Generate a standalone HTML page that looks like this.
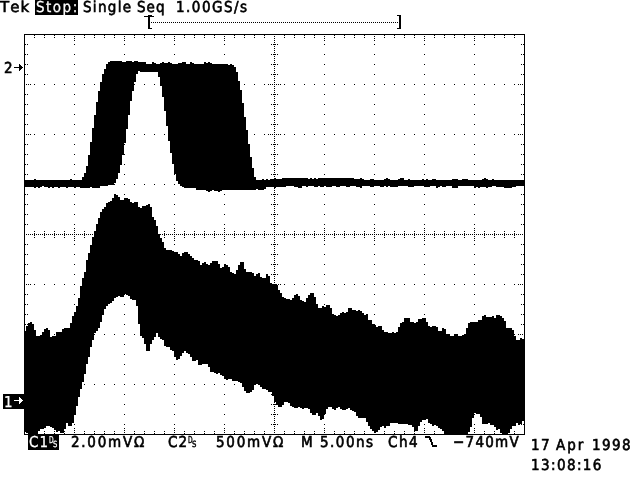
<!DOCTYPE html>
<html><head><meta charset="utf-8"><title>Tek scope</title>
<style>
html,body{margin:0;padding:0;background:#fff;}
body{width:640px;height:480px;overflow:hidden;position:relative;font-family:"DejaVu Sans Condensed","DejaVu Sans","Liberation Sans",sans-serif;font-stretch:condensed;color:#000;}
svg{position:absolute;left:0;top:0;display:block}
.t{position:absolute;white-space:pre;font-size:15px;line-height:15px;-webkit-text-stroke:0.6px #000;text-rendering:geometricPrecision;font-kerning:none;}
.s{position:absolute;white-space:pre;font-size:9.5px;line-height:9px;-webkit-text-stroke:0.45px #000;text-rendering:geometricPrecision;}
.n{font-family:"DejaVu Sans","Liberation Sans",sans-serif;font-stretch:normal;}
.w{color:#fff;-webkit-text-stroke:0.25px #fff;}
.box{position:absolute;background:#000;}
</style></head><body>
<svg width="640" height="480" viewBox="0 0 640 480" shape-rendering="crispEdges">
<rect width="640" height="480" fill="#fff"/>
<path d="M25 44h1v1h-1zM25 54h1v1h-1zM25 64h1v1h-1zM25 74h1v1h-1zM25 94h1v1h-1zM25 104h1v1h-1zM25 114h1v1h-1zM25 124h1v1h-1zM25 144h1v1h-1zM25 154h1v1h-1zM25 164h1v1h-1zM25 174h1v1h-1zM25 194h1v1h-1zM25 204h1v1h-1zM25 214h1v1h-1zM25 224h1v1h-1zM25 244h1v1h-1zM25 254h1v1h-1zM25 264h1v1h-1zM25 274h1v1h-1zM25 294h1v1h-1zM25 304h1v1h-1zM25 314h1v1h-1zM25 324h1v1h-1zM25 344h1v1h-1zM25 354h1v1h-1zM25 364h1v1h-1zM25 374h1v1h-1zM25 394h1v1h-1zM25 404h1v1h-1zM25 414h1v1h-1zM25 424h1v1h-1zM26 84h1v1h-1zM26 134h1v1h-1zM26 184h1v1h-1zM26 234h1v1h-1zM26 284h1v1h-1zM26 334h1v1h-1zM26 384h1v1h-1zM27 44h1v1h-1zM27 54h1v1h-1zM27 64h1v1h-1zM27 74h1v1h-1zM27 94h1v1h-1zM27 104h1v1h-1zM27 114h1v1h-1zM27 124h1v1h-1zM27 144h1v1h-1zM27 154h1v1h-1zM27 164h1v1h-1zM27 174h1v1h-1zM27 194h1v1h-1zM27 204h1v1h-1zM27 214h1v1h-1zM27 224h1v1h-1zM27 244h1v1h-1zM27 254h1v1h-1zM27 264h1v1h-1zM27 274h1v1h-1zM27 294h1v1h-1zM27 304h1v1h-1zM27 314h1v1h-1zM27 324h1v1h-1zM27 344h1v1h-1zM27 354h1v1h-1zM27 364h1v1h-1zM27 374h1v1h-1zM27 394h1v1h-1zM27 404h1v1h-1zM27 414h1v1h-1zM27 424h1v1h-1zM28 84h1v1h-1zM28 134h1v1h-1zM28 184h1v1h-1zM28 234h1v1h-1zM28 284h1v1h-1zM28 334h1v1h-1zM28 384h1v1h-1zM30 84h1v1h-1zM30 134h1v1h-1zM30 184h1v1h-1zM30 234h1v1h-1zM30 284h1v1h-1zM30 334h1v1h-1zM30 384h1v1h-1zM32 234h1v1h-1zM34 35h1v1h-1zM34 37h1v1h-1zM34 84h1v1h-1zM34 134h1v1h-1zM34 184h1v1h-1zM34 231h1v1h-1zM34 233h1v1h-1zM34 234h1v1h-1zM34 235h1v1h-1zM34 237h1v1h-1zM34 284h1v1h-1zM34 334h1v1h-1zM34 384h1v1h-1zM34 431h1v1h-1zM34 433h1v1h-1zM36 234h1v1h-1zM38 234h1v1h-1zM40 234h1v1h-1zM42 234h1v1h-1zM44 35h1v1h-1zM44 37h1v1h-1zM44 84h1v1h-1zM44 134h1v1h-1zM44 184h1v1h-1zM44 231h1v1h-1zM44 233h1v1h-1zM44 234h1v1h-1zM44 235h1v1h-1zM44 237h1v1h-1zM44 284h1v1h-1zM44 334h1v1h-1zM44 384h1v1h-1zM44 431h1v1h-1zM44 433h1v1h-1zM46 234h1v1h-1zM48 234h1v1h-1zM50 234h1v1h-1zM52 234h1v1h-1zM54 35h1v1h-1zM54 37h1v1h-1zM54 84h1v1h-1zM54 134h1v1h-1zM54 184h1v1h-1zM54 231h1v1h-1zM54 233h1v1h-1zM54 234h1v1h-1zM54 235h1v1h-1zM54 237h1v1h-1zM54 284h1v1h-1zM54 334h1v1h-1zM54 384h1v1h-1zM54 431h1v1h-1zM54 433h1v1h-1zM56 234h1v1h-1zM58 234h1v1h-1zM60 234h1v1h-1zM62 234h1v1h-1zM64 35h1v1h-1zM64 37h1v1h-1zM64 84h1v1h-1zM64 134h1v1h-1zM64 184h1v1h-1zM64 231h1v1h-1zM64 233h1v1h-1zM64 234h1v1h-1zM64 235h1v1h-1zM64 237h1v1h-1zM64 284h1v1h-1zM64 334h1v1h-1zM64 384h1v1h-1zM64 431h1v1h-1zM64 433h1v1h-1zM66 234h1v1h-1zM68 234h1v1h-1zM70 234h1v1h-1zM72 234h1v1h-1zM74 36h1v1h-1zM74 38h1v1h-1zM74 40h1v1h-1zM74 44h1v1h-1zM74 54h1v1h-1zM74 64h1v1h-1zM74 74h1v1h-1zM74 84h1v1h-1zM74 94h1v1h-1zM74 104h1v1h-1zM74 114h1v1h-1zM74 124h1v1h-1zM74 134h1v1h-1zM74 144h1v1h-1zM74 154h1v1h-1zM74 164h1v1h-1zM74 174h1v1h-1zM74 184h1v1h-1zM74 194h1v1h-1zM74 204h1v1h-1zM74 214h1v1h-1zM74 224h1v1h-1zM74 228h1v1h-1zM74 230h1v1h-1zM74 232h1v1h-1zM74 234h1v1h-1zM74 236h1v1h-1zM74 238h1v1h-1zM74 240h1v1h-1zM74 244h1v1h-1zM74 254h1v1h-1zM74 264h1v1h-1zM74 274h1v1h-1zM74 284h1v1h-1zM74 294h1v1h-1zM74 304h1v1h-1zM74 314h1v1h-1zM74 324h1v1h-1zM74 334h1v1h-1zM74 344h1v1h-1zM74 354h1v1h-1zM74 364h1v1h-1zM74 374h1v1h-1zM74 384h1v1h-1zM74 394h1v1h-1zM74 404h1v1h-1zM74 414h1v1h-1zM74 424h1v1h-1zM74 428h1v1h-1zM74 430h1v1h-1zM74 432h1v1h-1zM76 234h1v1h-1zM78 234h1v1h-1zM80 234h1v1h-1zM82 234h1v1h-1zM84 35h1v1h-1zM84 37h1v1h-1zM84 84h1v1h-1zM84 134h1v1h-1zM84 184h1v1h-1zM84 231h1v1h-1zM84 233h1v1h-1zM84 234h1v1h-1zM84 235h1v1h-1zM84 237h1v1h-1zM84 284h1v1h-1zM84 334h1v1h-1zM84 384h1v1h-1zM84 431h1v1h-1zM84 433h1v1h-1zM86 234h1v1h-1zM88 234h1v1h-1zM90 234h1v1h-1zM92 234h1v1h-1zM94 35h1v1h-1zM94 37h1v1h-1zM94 84h1v1h-1zM94 134h1v1h-1zM94 184h1v1h-1zM94 231h1v1h-1zM94 233h1v1h-1zM94 234h1v1h-1zM94 235h1v1h-1zM94 237h1v1h-1zM94 284h1v1h-1zM94 334h1v1h-1zM94 384h1v1h-1zM94 431h1v1h-1zM94 433h1v1h-1zM96 234h1v1h-1zM98 234h1v1h-1zM100 234h1v1h-1zM102 234h1v1h-1zM104 35h1v1h-1zM104 37h1v1h-1zM104 84h1v1h-1zM104 134h1v1h-1zM104 184h1v1h-1zM104 231h1v1h-1zM104 233h1v1h-1zM104 234h1v1h-1zM104 235h1v1h-1zM104 237h1v1h-1zM104 284h1v1h-1zM104 334h1v1h-1zM104 384h1v1h-1zM104 431h1v1h-1zM104 433h1v1h-1zM106 234h1v1h-1zM108 234h1v1h-1zM110 234h1v1h-1zM112 234h1v1h-1zM114 35h1v1h-1zM114 37h1v1h-1zM114 84h1v1h-1zM114 134h1v1h-1zM114 184h1v1h-1zM114 231h1v1h-1zM114 233h1v1h-1zM114 234h1v1h-1zM114 235h1v1h-1zM114 237h1v1h-1zM114 284h1v1h-1zM114 334h1v1h-1zM114 384h1v1h-1zM114 431h1v1h-1zM114 433h1v1h-1zM116 234h1v1h-1zM118 234h1v1h-1zM120 234h1v1h-1zM122 234h1v1h-1zM124 36h1v1h-1zM124 38h1v1h-1zM124 40h1v1h-1zM124 44h1v1h-1zM124 54h1v1h-1zM124 64h1v1h-1zM124 74h1v1h-1zM124 84h1v1h-1zM124 94h1v1h-1zM124 104h1v1h-1zM124 114h1v1h-1zM124 124h1v1h-1zM124 134h1v1h-1zM124 144h1v1h-1zM124 154h1v1h-1zM124 164h1v1h-1zM124 174h1v1h-1zM124 184h1v1h-1zM124 194h1v1h-1zM124 204h1v1h-1zM124 214h1v1h-1zM124 224h1v1h-1zM124 228h1v1h-1zM124 230h1v1h-1zM124 232h1v1h-1zM124 234h1v1h-1zM124 236h1v1h-1zM124 238h1v1h-1zM124 240h1v1h-1zM124 244h1v1h-1zM124 254h1v1h-1zM124 264h1v1h-1zM124 274h1v1h-1zM124 284h1v1h-1zM124 294h1v1h-1zM124 304h1v1h-1zM124 314h1v1h-1zM124 324h1v1h-1zM124 334h1v1h-1zM124 344h1v1h-1zM124 354h1v1h-1zM124 364h1v1h-1zM124 374h1v1h-1zM124 384h1v1h-1zM124 394h1v1h-1zM124 404h1v1h-1zM124 414h1v1h-1zM124 424h1v1h-1zM124 428h1v1h-1zM124 430h1v1h-1zM124 432h1v1h-1zM126 234h1v1h-1zM128 234h1v1h-1zM130 234h1v1h-1zM132 234h1v1h-1zM134 35h1v1h-1zM134 37h1v1h-1zM134 84h1v1h-1zM134 134h1v1h-1zM134 184h1v1h-1zM134 231h1v1h-1zM134 233h1v1h-1zM134 234h1v1h-1zM134 235h1v1h-1zM134 237h1v1h-1zM134 284h1v1h-1zM134 334h1v1h-1zM134 384h1v1h-1zM134 431h1v1h-1zM134 433h1v1h-1zM136 234h1v1h-1zM138 234h1v1h-1zM140 234h1v1h-1zM142 234h1v1h-1zM144 35h1v1h-1zM144 37h1v1h-1zM144 84h1v1h-1zM144 134h1v1h-1zM144 184h1v1h-1zM144 231h1v1h-1zM144 233h1v1h-1zM144 234h1v1h-1zM144 235h1v1h-1zM144 237h1v1h-1zM144 284h1v1h-1zM144 334h1v1h-1zM144 384h1v1h-1zM144 431h1v1h-1zM144 433h1v1h-1zM146 234h1v1h-1zM148 234h1v1h-1zM150 234h1v1h-1zM152 234h1v1h-1zM154 35h1v1h-1zM154 37h1v1h-1zM154 84h1v1h-1zM154 134h1v1h-1zM154 184h1v1h-1zM154 231h1v1h-1zM154 233h1v1h-1zM154 234h1v1h-1zM154 235h1v1h-1zM154 237h1v1h-1zM154 284h1v1h-1zM154 334h1v1h-1zM154 384h1v1h-1zM154 431h1v1h-1zM154 433h1v1h-1zM156 234h1v1h-1zM158 234h1v1h-1zM160 234h1v1h-1zM162 234h1v1h-1zM164 35h1v1h-1zM164 37h1v1h-1zM164 84h1v1h-1zM164 134h1v1h-1zM164 184h1v1h-1zM164 231h1v1h-1zM164 233h1v1h-1zM164 234h1v1h-1zM164 235h1v1h-1zM164 237h1v1h-1zM164 284h1v1h-1zM164 334h1v1h-1zM164 384h1v1h-1zM164 431h1v1h-1zM164 433h1v1h-1zM166 234h1v1h-1zM168 234h1v1h-1zM170 234h1v1h-1zM172 234h1v1h-1zM174 36h1v1h-1zM174 38h1v1h-1zM174 40h1v1h-1zM174 44h1v1h-1zM174 54h1v1h-1zM174 64h1v1h-1zM174 74h1v1h-1zM174 84h1v1h-1zM174 94h1v1h-1zM174 104h1v1h-1zM174 114h1v1h-1zM174 124h1v1h-1zM174 134h1v1h-1zM174 144h1v1h-1zM174 154h1v1h-1zM174 164h1v1h-1zM174 174h1v1h-1zM174 184h1v1h-1zM174 194h1v1h-1zM174 204h1v1h-1zM174 214h1v1h-1zM174 224h1v1h-1zM174 228h1v1h-1zM174 230h1v1h-1zM174 232h1v1h-1zM174 234h1v1h-1zM174 236h1v1h-1zM174 238h1v1h-1zM174 240h1v1h-1zM174 244h1v1h-1zM174 254h1v1h-1zM174 264h1v1h-1zM174 274h1v1h-1zM174 284h1v1h-1zM174 294h1v1h-1zM174 304h1v1h-1zM174 314h1v1h-1zM174 324h1v1h-1zM174 334h1v1h-1zM174 344h1v1h-1zM174 354h1v1h-1zM174 364h1v1h-1zM174 374h1v1h-1zM174 384h1v1h-1zM174 394h1v1h-1zM174 404h1v1h-1zM174 414h1v1h-1zM174 424h1v1h-1zM174 428h1v1h-1zM174 430h1v1h-1zM174 432h1v1h-1zM176 234h1v1h-1zM178 234h1v1h-1zM180 234h1v1h-1zM182 234h1v1h-1zM184 35h1v1h-1zM184 37h1v1h-1zM184 84h1v1h-1zM184 134h1v1h-1zM184 184h1v1h-1zM184 231h1v1h-1zM184 233h1v1h-1zM184 234h1v1h-1zM184 235h1v1h-1zM184 237h1v1h-1zM184 284h1v1h-1zM184 334h1v1h-1zM184 384h1v1h-1zM184 431h1v1h-1zM184 433h1v1h-1zM186 234h1v1h-1zM188 234h1v1h-1zM190 234h1v1h-1zM192 234h1v1h-1zM194 35h1v1h-1zM194 37h1v1h-1zM194 84h1v1h-1zM194 134h1v1h-1zM194 184h1v1h-1zM194 231h1v1h-1zM194 233h1v1h-1zM194 234h1v1h-1zM194 235h1v1h-1zM194 237h1v1h-1zM194 284h1v1h-1zM194 334h1v1h-1zM194 384h1v1h-1zM194 431h1v1h-1zM194 433h1v1h-1zM196 234h1v1h-1zM198 234h1v1h-1zM200 234h1v1h-1zM202 234h1v1h-1zM204 35h1v1h-1zM204 37h1v1h-1zM204 84h1v1h-1zM204 134h1v1h-1zM204 184h1v1h-1zM204 231h1v1h-1zM204 233h1v1h-1zM204 234h1v1h-1zM204 235h1v1h-1zM204 237h1v1h-1zM204 284h1v1h-1zM204 334h1v1h-1zM204 384h1v1h-1zM204 431h1v1h-1zM204 433h1v1h-1zM206 234h1v1h-1zM208 234h1v1h-1zM210 234h1v1h-1zM212 234h1v1h-1zM214 35h1v1h-1zM214 37h1v1h-1zM214 84h1v1h-1zM214 134h1v1h-1zM214 184h1v1h-1zM214 231h1v1h-1zM214 233h1v1h-1zM214 234h1v1h-1zM214 235h1v1h-1zM214 237h1v1h-1zM214 284h1v1h-1zM214 334h1v1h-1zM214 384h1v1h-1zM214 431h1v1h-1zM214 433h1v1h-1zM216 234h1v1h-1zM218 234h1v1h-1zM220 234h1v1h-1zM222 234h1v1h-1zM224 36h1v1h-1zM224 38h1v1h-1zM224 40h1v1h-1zM224 44h1v1h-1zM224 54h1v1h-1zM224 64h1v1h-1zM224 74h1v1h-1zM224 84h1v1h-1zM224 94h1v1h-1zM224 104h1v1h-1zM224 114h1v1h-1zM224 124h1v1h-1zM224 134h1v1h-1zM224 144h1v1h-1zM224 154h1v1h-1zM224 164h1v1h-1zM224 174h1v1h-1zM224 184h1v1h-1zM224 194h1v1h-1zM224 204h1v1h-1zM224 214h1v1h-1zM224 224h1v1h-1zM224 228h1v1h-1zM224 230h1v1h-1zM224 232h1v1h-1zM224 234h1v1h-1zM224 236h1v1h-1zM224 238h1v1h-1zM224 240h1v1h-1zM224 244h1v1h-1zM224 254h1v1h-1zM224 264h1v1h-1zM224 274h1v1h-1zM224 284h1v1h-1zM224 294h1v1h-1zM224 304h1v1h-1zM224 314h1v1h-1zM224 324h1v1h-1zM224 334h1v1h-1zM224 344h1v1h-1zM224 354h1v1h-1zM224 364h1v1h-1zM224 374h1v1h-1zM224 384h1v1h-1zM224 394h1v1h-1zM224 404h1v1h-1zM224 414h1v1h-1zM224 424h1v1h-1zM224 428h1v1h-1zM224 430h1v1h-1zM224 432h1v1h-1zM226 234h1v1h-1zM228 234h1v1h-1zM230 234h1v1h-1zM232 234h1v1h-1zM234 35h1v1h-1zM234 37h1v1h-1zM234 84h1v1h-1zM234 134h1v1h-1zM234 184h1v1h-1zM234 231h1v1h-1zM234 233h1v1h-1zM234 234h1v1h-1zM234 235h1v1h-1zM234 237h1v1h-1zM234 284h1v1h-1zM234 334h1v1h-1zM234 384h1v1h-1zM234 431h1v1h-1zM234 433h1v1h-1zM236 234h1v1h-1zM238 234h1v1h-1zM240 234h1v1h-1zM242 234h1v1h-1zM244 35h1v1h-1zM244 37h1v1h-1zM244 84h1v1h-1zM244 134h1v1h-1zM244 184h1v1h-1zM244 231h1v1h-1zM244 233h1v1h-1zM244 234h1v1h-1zM244 235h1v1h-1zM244 237h1v1h-1zM244 284h1v1h-1zM244 334h1v1h-1zM244 384h1v1h-1zM244 431h1v1h-1zM244 433h1v1h-1zM246 234h1v1h-1zM248 234h1v1h-1zM250 234h1v1h-1zM252 234h1v1h-1zM254 35h1v1h-1zM254 37h1v1h-1zM254 84h1v1h-1zM254 134h1v1h-1zM254 184h1v1h-1zM254 231h1v1h-1zM254 233h1v1h-1zM254 234h1v1h-1zM254 235h1v1h-1zM254 237h1v1h-1zM254 284h1v1h-1zM254 334h1v1h-1zM254 384h1v1h-1zM254 431h1v1h-1zM254 433h1v1h-1zM256 234h1v1h-1zM258 234h1v1h-1zM260 234h1v1h-1zM262 234h1v1h-1zM264 35h1v1h-1zM264 37h1v1h-1zM264 84h1v1h-1zM264 134h1v1h-1zM264 184h1v1h-1zM264 231h1v1h-1zM264 233h1v1h-1zM264 234h1v1h-1zM264 235h1v1h-1zM264 237h1v1h-1zM264 284h1v1h-1zM264 334h1v1h-1zM264 384h1v1h-1zM264 431h1v1h-1zM264 433h1v1h-1zM266 234h1v1h-1zM268 84h1v1h-1zM268 134h1v1h-1zM268 184h1v1h-1zM268 234h1v1h-1zM268 284h1v1h-1zM268 334h1v1h-1zM268 384h1v1h-1zM270 84h1v1h-1zM270 134h1v1h-1zM270 184h1v1h-1zM270 234h1v1h-1zM270 284h1v1h-1zM270 334h1v1h-1zM270 384h1v1h-1zM271 44h1v1h-1zM271 54h1v1h-1zM271 64h1v1h-1zM271 74h1v1h-1zM271 94h1v1h-1zM271 104h1v1h-1zM271 114h1v1h-1zM271 124h1v1h-1zM271 144h1v1h-1zM271 154h1v1h-1zM271 164h1v1h-1zM271 174h1v1h-1zM271 194h1v1h-1zM271 204h1v1h-1zM271 214h1v1h-1zM271 224h1v1h-1zM271 244h1v1h-1zM271 254h1v1h-1zM271 264h1v1h-1zM271 274h1v1h-1zM271 294h1v1h-1zM271 304h1v1h-1zM271 314h1v1h-1zM271 324h1v1h-1zM271 344h1v1h-1zM271 354h1v1h-1zM271 364h1v1h-1zM271 374h1v1h-1zM271 394h1v1h-1zM271 404h1v1h-1zM271 414h1v1h-1zM271 424h1v1h-1zM272 84h1v1h-1zM272 134h1v1h-1zM272 184h1v1h-1zM272 234h1v1h-1zM272 284h1v1h-1zM272 334h1v1h-1zM272 384h1v1h-1zM273 44h1v1h-1zM273 54h1v1h-1zM273 64h1v1h-1zM273 74h1v1h-1zM273 94h1v1h-1zM273 104h1v1h-1zM273 114h1v1h-1zM273 124h1v1h-1zM273 144h1v1h-1zM273 154h1v1h-1zM273 164h1v1h-1zM273 174h1v1h-1zM273 194h1v1h-1zM273 204h1v1h-1zM273 214h1v1h-1zM273 224h1v1h-1zM273 244h1v1h-1zM273 254h1v1h-1zM273 264h1v1h-1zM273 274h1v1h-1zM273 294h1v1h-1zM273 304h1v1h-1zM273 314h1v1h-1zM273 324h1v1h-1zM273 344h1v1h-1zM273 354h1v1h-1zM273 364h1v1h-1zM273 374h1v1h-1zM273 394h1v1h-1zM273 404h1v1h-1zM273 414h1v1h-1zM273 424h1v1h-1zM274 36h1v1h-1zM274 38h1v1h-1zM274 40h1v1h-1zM274 42h1v1h-1zM274 44h1v1h-1zM274 46h1v1h-1zM274 48h1v1h-1zM274 50h1v1h-1zM274 52h1v1h-1zM274 54h1v1h-1zM274 56h1v1h-1zM274 58h1v1h-1zM274 60h1v1h-1zM274 62h1v1h-1zM274 64h1v1h-1zM274 66h1v1h-1zM274 68h1v1h-1zM274 70h1v1h-1zM274 72h1v1h-1zM274 74h1v1h-1zM274 76h1v1h-1zM274 78h1v1h-1zM274 80h1v1h-1zM274 82h1v1h-1zM274 84h1v1h-1zM274 86h1v1h-1zM274 88h1v1h-1zM274 90h1v1h-1zM274 92h1v1h-1zM274 94h1v1h-1zM274 96h1v1h-1zM274 98h1v1h-1zM274 100h1v1h-1zM274 102h1v1h-1zM274 104h1v1h-1zM274 106h1v1h-1zM274 108h1v1h-1zM274 110h1v1h-1zM274 112h1v1h-1zM274 114h1v1h-1zM274 116h1v1h-1zM274 118h1v1h-1zM274 120h1v1h-1zM274 122h1v1h-1zM274 124h1v1h-1zM274 126h1v1h-1zM274 128h1v1h-1zM274 130h1v1h-1zM274 132h1v1h-1zM274 134h1v1h-1zM274 136h1v1h-1zM274 138h1v1h-1zM274 140h1v1h-1zM274 142h1v1h-1zM274 144h1v1h-1zM274 146h1v1h-1zM274 148h1v1h-1zM274 150h1v1h-1zM274 152h1v1h-1zM274 154h1v1h-1zM274 156h1v1h-1zM274 158h1v1h-1zM274 160h1v1h-1zM274 162h1v1h-1zM274 164h1v1h-1zM274 166h1v1h-1zM274 168h1v1h-1zM274 170h1v1h-1zM274 172h1v1h-1zM274 174h1v1h-1zM274 176h1v1h-1zM274 178h1v1h-1zM274 180h1v1h-1zM274 182h1v1h-1zM274 184h1v1h-1zM274 186h1v1h-1zM274 188h1v1h-1zM274 190h1v1h-1zM274 192h1v1h-1zM274 194h1v1h-1zM274 196h1v1h-1zM274 198h1v1h-1zM274 200h1v1h-1zM274 202h1v1h-1zM274 204h1v1h-1zM274 206h1v1h-1zM274 208h1v1h-1zM274 210h1v1h-1zM274 212h1v1h-1zM274 214h1v1h-1zM274 216h1v1h-1zM274 218h1v1h-1zM274 220h1v1h-1zM274 222h1v1h-1zM274 224h1v1h-1zM274 226h1v1h-1zM274 228h1v1h-1zM274 230h1v1h-1zM274 232h1v1h-1zM274 234h1v1h-1zM274 236h1v1h-1zM274 238h1v1h-1zM274 240h1v1h-1zM274 242h1v1h-1zM274 244h1v1h-1zM274 246h1v1h-1zM274 248h1v1h-1zM274 250h1v1h-1zM274 252h1v1h-1zM274 254h1v1h-1zM274 256h1v1h-1zM274 258h1v1h-1zM274 260h1v1h-1zM274 262h1v1h-1zM274 264h1v1h-1zM274 266h1v1h-1zM274 268h1v1h-1zM274 270h1v1h-1zM274 272h1v1h-1zM274 274h1v1h-1zM274 276h1v1h-1zM274 278h1v1h-1zM274 280h1v1h-1zM274 282h1v1h-1zM274 284h1v1h-1zM274 286h1v1h-1zM274 288h1v1h-1zM274 290h1v1h-1zM274 292h1v1h-1zM274 294h1v1h-1zM274 296h1v1h-1zM274 298h1v1h-1zM274 300h1v1h-1zM274 302h1v1h-1zM274 304h1v1h-1zM274 306h1v1h-1zM274 308h1v1h-1zM274 310h1v1h-1zM274 312h1v1h-1zM274 314h1v1h-1zM274 316h1v1h-1zM274 318h1v1h-1zM274 320h1v1h-1zM274 322h1v1h-1zM274 324h1v1h-1zM274 326h1v1h-1zM274 328h1v1h-1zM274 330h1v1h-1zM274 332h1v1h-1zM274 334h1v1h-1zM274 336h1v1h-1zM274 338h1v1h-1zM274 340h1v1h-1zM274 342h1v1h-1zM274 344h1v1h-1zM274 346h1v1h-1zM274 348h1v1h-1zM274 350h1v1h-1zM274 352h1v1h-1zM274 354h1v1h-1zM274 356h1v1h-1zM274 358h1v1h-1zM274 360h1v1h-1zM274 362h1v1h-1zM274 364h1v1h-1zM274 366h1v1h-1zM274 368h1v1h-1zM274 370h1v1h-1zM274 372h1v1h-1zM274 374h1v1h-1zM274 376h1v1h-1zM274 378h1v1h-1zM274 380h1v1h-1zM274 382h1v1h-1zM274 384h1v1h-1zM274 386h1v1h-1zM274 388h1v1h-1zM274 390h1v1h-1zM274 392h1v1h-1zM274 394h1v1h-1zM274 396h1v1h-1zM274 398h1v1h-1zM274 400h1v1h-1zM274 402h1v1h-1zM274 404h1v1h-1zM274 406h1v1h-1zM274 408h1v1h-1zM274 410h1v1h-1zM274 412h1v1h-1zM274 414h1v1h-1zM274 416h1v1h-1zM274 418h1v1h-1zM274 420h1v1h-1zM274 422h1v1h-1zM274 424h1v1h-1zM274 426h1v1h-1zM274 428h1v1h-1zM274 430h1v1h-1zM274 432h1v1h-1zM275 44h1v1h-1zM275 54h1v1h-1zM275 64h1v1h-1zM275 74h1v1h-1zM275 94h1v1h-1zM275 104h1v1h-1zM275 114h1v1h-1zM275 124h1v1h-1zM275 144h1v1h-1zM275 154h1v1h-1zM275 164h1v1h-1zM275 174h1v1h-1zM275 194h1v1h-1zM275 204h1v1h-1zM275 214h1v1h-1zM275 224h1v1h-1zM275 244h1v1h-1zM275 254h1v1h-1zM275 264h1v1h-1zM275 274h1v1h-1zM275 294h1v1h-1zM275 304h1v1h-1zM275 314h1v1h-1zM275 324h1v1h-1zM275 344h1v1h-1zM275 354h1v1h-1zM275 364h1v1h-1zM275 374h1v1h-1zM275 394h1v1h-1zM275 404h1v1h-1zM275 414h1v1h-1zM275 424h1v1h-1zM276 84h1v1h-1zM276 134h1v1h-1zM276 184h1v1h-1zM276 234h1v1h-1zM276 284h1v1h-1zM276 334h1v1h-1zM276 384h1v1h-1zM277 44h1v1h-1zM277 54h1v1h-1zM277 64h1v1h-1zM277 74h1v1h-1zM277 94h1v1h-1zM277 104h1v1h-1zM277 114h1v1h-1zM277 124h1v1h-1zM277 144h1v1h-1zM277 154h1v1h-1zM277 164h1v1h-1zM277 174h1v1h-1zM277 194h1v1h-1zM277 204h1v1h-1zM277 214h1v1h-1zM277 224h1v1h-1zM277 244h1v1h-1zM277 254h1v1h-1zM277 264h1v1h-1zM277 274h1v1h-1zM277 294h1v1h-1zM277 304h1v1h-1zM277 314h1v1h-1zM277 324h1v1h-1zM277 344h1v1h-1zM277 354h1v1h-1zM277 364h1v1h-1zM277 374h1v1h-1zM277 394h1v1h-1zM277 404h1v1h-1zM277 414h1v1h-1zM277 424h1v1h-1zM278 84h1v1h-1zM278 134h1v1h-1zM278 184h1v1h-1zM278 234h1v1h-1zM278 284h1v1h-1zM278 334h1v1h-1zM278 384h1v1h-1zM280 84h1v1h-1zM280 134h1v1h-1zM280 184h1v1h-1zM280 234h1v1h-1zM280 284h1v1h-1zM280 334h1v1h-1zM280 384h1v1h-1zM282 234h1v1h-1zM284 35h1v1h-1zM284 37h1v1h-1zM284 84h1v1h-1zM284 134h1v1h-1zM284 184h1v1h-1zM284 231h1v1h-1zM284 233h1v1h-1zM284 234h1v1h-1zM284 235h1v1h-1zM284 237h1v1h-1zM284 284h1v1h-1zM284 334h1v1h-1zM284 384h1v1h-1zM284 431h1v1h-1zM284 433h1v1h-1zM286 234h1v1h-1zM288 234h1v1h-1zM290 234h1v1h-1zM292 234h1v1h-1zM294 35h1v1h-1zM294 37h1v1h-1zM294 84h1v1h-1zM294 134h1v1h-1zM294 184h1v1h-1zM294 231h1v1h-1zM294 233h1v1h-1zM294 234h1v1h-1zM294 235h1v1h-1zM294 237h1v1h-1zM294 284h1v1h-1zM294 334h1v1h-1zM294 384h1v1h-1zM294 431h1v1h-1zM294 433h1v1h-1zM296 234h1v1h-1zM298 234h1v1h-1zM300 234h1v1h-1zM302 234h1v1h-1zM304 35h1v1h-1zM304 37h1v1h-1zM304 84h1v1h-1zM304 134h1v1h-1zM304 184h1v1h-1zM304 231h1v1h-1zM304 233h1v1h-1zM304 234h1v1h-1zM304 235h1v1h-1zM304 237h1v1h-1zM304 284h1v1h-1zM304 334h1v1h-1zM304 384h1v1h-1zM304 431h1v1h-1zM304 433h1v1h-1zM306 234h1v1h-1zM308 234h1v1h-1zM310 234h1v1h-1zM312 234h1v1h-1zM314 35h1v1h-1zM314 37h1v1h-1zM314 84h1v1h-1zM314 134h1v1h-1zM314 184h1v1h-1zM314 231h1v1h-1zM314 233h1v1h-1zM314 234h1v1h-1zM314 235h1v1h-1zM314 237h1v1h-1zM314 284h1v1h-1zM314 334h1v1h-1zM314 384h1v1h-1zM314 431h1v1h-1zM314 433h1v1h-1zM316 234h1v1h-1zM318 234h1v1h-1zM320 234h1v1h-1zM322 234h1v1h-1zM324 36h1v1h-1zM324 38h1v1h-1zM324 40h1v1h-1zM324 44h1v1h-1zM324 54h1v1h-1zM324 64h1v1h-1zM324 74h1v1h-1zM324 84h1v1h-1zM324 94h1v1h-1zM324 104h1v1h-1zM324 114h1v1h-1zM324 124h1v1h-1zM324 134h1v1h-1zM324 144h1v1h-1zM324 154h1v1h-1zM324 164h1v1h-1zM324 174h1v1h-1zM324 184h1v1h-1zM324 194h1v1h-1zM324 204h1v1h-1zM324 214h1v1h-1zM324 224h1v1h-1zM324 228h1v1h-1zM324 230h1v1h-1zM324 232h1v1h-1zM324 234h1v1h-1zM324 236h1v1h-1zM324 238h1v1h-1zM324 240h1v1h-1zM324 244h1v1h-1zM324 254h1v1h-1zM324 264h1v1h-1zM324 274h1v1h-1zM324 284h1v1h-1zM324 294h1v1h-1zM324 304h1v1h-1zM324 314h1v1h-1zM324 324h1v1h-1zM324 334h1v1h-1zM324 344h1v1h-1zM324 354h1v1h-1zM324 364h1v1h-1zM324 374h1v1h-1zM324 384h1v1h-1zM324 394h1v1h-1zM324 404h1v1h-1zM324 414h1v1h-1zM324 424h1v1h-1zM324 428h1v1h-1zM324 430h1v1h-1zM324 432h1v1h-1zM326 234h1v1h-1zM328 234h1v1h-1zM330 234h1v1h-1zM332 234h1v1h-1zM334 35h1v1h-1zM334 37h1v1h-1zM334 84h1v1h-1zM334 134h1v1h-1zM334 184h1v1h-1zM334 231h1v1h-1zM334 233h1v1h-1zM334 234h1v1h-1zM334 235h1v1h-1zM334 237h1v1h-1zM334 284h1v1h-1zM334 334h1v1h-1zM334 384h1v1h-1zM334 431h1v1h-1zM334 433h1v1h-1zM336 234h1v1h-1zM338 234h1v1h-1zM340 234h1v1h-1zM342 234h1v1h-1zM344 35h1v1h-1zM344 37h1v1h-1zM344 84h1v1h-1zM344 134h1v1h-1zM344 184h1v1h-1zM344 231h1v1h-1zM344 233h1v1h-1zM344 234h1v1h-1zM344 235h1v1h-1zM344 237h1v1h-1zM344 284h1v1h-1zM344 334h1v1h-1zM344 384h1v1h-1zM344 431h1v1h-1zM344 433h1v1h-1zM346 234h1v1h-1zM348 234h1v1h-1zM350 234h1v1h-1zM352 234h1v1h-1zM354 35h1v1h-1zM354 37h1v1h-1zM354 84h1v1h-1zM354 134h1v1h-1zM354 184h1v1h-1zM354 231h1v1h-1zM354 233h1v1h-1zM354 234h1v1h-1zM354 235h1v1h-1zM354 237h1v1h-1zM354 284h1v1h-1zM354 334h1v1h-1zM354 384h1v1h-1zM354 431h1v1h-1zM354 433h1v1h-1zM356 234h1v1h-1zM358 234h1v1h-1zM360 234h1v1h-1zM362 234h1v1h-1zM364 35h1v1h-1zM364 37h1v1h-1zM364 84h1v1h-1zM364 134h1v1h-1zM364 184h1v1h-1zM364 231h1v1h-1zM364 233h1v1h-1zM364 234h1v1h-1zM364 235h1v1h-1zM364 237h1v1h-1zM364 284h1v1h-1zM364 334h1v1h-1zM364 384h1v1h-1zM364 431h1v1h-1zM364 433h1v1h-1zM366 234h1v1h-1zM368 234h1v1h-1zM370 234h1v1h-1zM372 234h1v1h-1zM374 36h1v1h-1zM374 38h1v1h-1zM374 40h1v1h-1zM374 44h1v1h-1zM374 54h1v1h-1zM374 64h1v1h-1zM374 74h1v1h-1zM374 84h1v1h-1zM374 94h1v1h-1zM374 104h1v1h-1zM374 114h1v1h-1zM374 124h1v1h-1zM374 134h1v1h-1zM374 144h1v1h-1zM374 154h1v1h-1zM374 164h1v1h-1zM374 174h1v1h-1zM374 184h1v1h-1zM374 194h1v1h-1zM374 204h1v1h-1zM374 214h1v1h-1zM374 224h1v1h-1zM374 228h1v1h-1zM374 230h1v1h-1zM374 232h1v1h-1zM374 234h1v1h-1zM374 236h1v1h-1zM374 238h1v1h-1zM374 240h1v1h-1zM374 244h1v1h-1zM374 254h1v1h-1zM374 264h1v1h-1zM374 274h1v1h-1zM374 284h1v1h-1zM374 294h1v1h-1zM374 304h1v1h-1zM374 314h1v1h-1zM374 324h1v1h-1zM374 334h1v1h-1zM374 344h1v1h-1zM374 354h1v1h-1zM374 364h1v1h-1zM374 374h1v1h-1zM374 384h1v1h-1zM374 394h1v1h-1zM374 404h1v1h-1zM374 414h1v1h-1zM374 424h1v1h-1zM374 428h1v1h-1zM374 430h1v1h-1zM374 432h1v1h-1zM376 234h1v1h-1zM378 234h1v1h-1zM380 234h1v1h-1zM382 234h1v1h-1zM384 35h1v1h-1zM384 37h1v1h-1zM384 84h1v1h-1zM384 134h1v1h-1zM384 184h1v1h-1zM384 231h1v1h-1zM384 233h1v1h-1zM384 234h1v1h-1zM384 235h1v1h-1zM384 237h1v1h-1zM384 284h1v1h-1zM384 334h1v1h-1zM384 384h1v1h-1zM384 431h1v1h-1zM384 433h1v1h-1zM386 234h1v1h-1zM388 234h1v1h-1zM390 234h1v1h-1zM392 234h1v1h-1zM394 35h1v1h-1zM394 37h1v1h-1zM394 84h1v1h-1zM394 134h1v1h-1zM394 184h1v1h-1zM394 231h1v1h-1zM394 233h1v1h-1zM394 234h1v1h-1zM394 235h1v1h-1zM394 237h1v1h-1zM394 284h1v1h-1zM394 334h1v1h-1zM394 384h1v1h-1zM394 431h1v1h-1zM394 433h1v1h-1zM396 234h1v1h-1zM398 234h1v1h-1zM400 234h1v1h-1zM402 234h1v1h-1zM404 35h1v1h-1zM404 37h1v1h-1zM404 84h1v1h-1zM404 134h1v1h-1zM404 184h1v1h-1zM404 231h1v1h-1zM404 233h1v1h-1zM404 234h1v1h-1zM404 235h1v1h-1zM404 237h1v1h-1zM404 284h1v1h-1zM404 334h1v1h-1zM404 384h1v1h-1zM404 431h1v1h-1zM404 433h1v1h-1zM406 234h1v1h-1zM408 234h1v1h-1zM410 234h1v1h-1zM412 234h1v1h-1zM414 35h1v1h-1zM414 37h1v1h-1zM414 84h1v1h-1zM414 134h1v1h-1zM414 184h1v1h-1zM414 231h1v1h-1zM414 233h1v1h-1zM414 234h1v1h-1zM414 235h1v1h-1zM414 237h1v1h-1zM414 284h1v1h-1zM414 334h1v1h-1zM414 384h1v1h-1zM414 431h1v1h-1zM414 433h1v1h-1zM416 234h1v1h-1zM418 234h1v1h-1zM420 234h1v1h-1zM422 234h1v1h-1zM424 36h1v1h-1zM424 38h1v1h-1zM424 40h1v1h-1zM424 44h1v1h-1zM424 54h1v1h-1zM424 64h1v1h-1zM424 74h1v1h-1zM424 84h1v1h-1zM424 94h1v1h-1zM424 104h1v1h-1zM424 114h1v1h-1zM424 124h1v1h-1zM424 134h1v1h-1zM424 144h1v1h-1zM424 154h1v1h-1zM424 164h1v1h-1zM424 174h1v1h-1zM424 184h1v1h-1zM424 194h1v1h-1zM424 204h1v1h-1zM424 214h1v1h-1zM424 224h1v1h-1zM424 228h1v1h-1zM424 230h1v1h-1zM424 232h1v1h-1zM424 234h1v1h-1zM424 236h1v1h-1zM424 238h1v1h-1zM424 240h1v1h-1zM424 244h1v1h-1zM424 254h1v1h-1zM424 264h1v1h-1zM424 274h1v1h-1zM424 284h1v1h-1zM424 294h1v1h-1zM424 304h1v1h-1zM424 314h1v1h-1zM424 324h1v1h-1zM424 334h1v1h-1zM424 344h1v1h-1zM424 354h1v1h-1zM424 364h1v1h-1zM424 374h1v1h-1zM424 384h1v1h-1zM424 394h1v1h-1zM424 404h1v1h-1zM424 414h1v1h-1zM424 424h1v1h-1zM424 428h1v1h-1zM424 430h1v1h-1zM424 432h1v1h-1zM426 234h1v1h-1zM428 234h1v1h-1zM430 234h1v1h-1zM432 234h1v1h-1zM434 35h1v1h-1zM434 37h1v1h-1zM434 84h1v1h-1zM434 134h1v1h-1zM434 184h1v1h-1zM434 231h1v1h-1zM434 233h1v1h-1zM434 234h1v1h-1zM434 235h1v1h-1zM434 237h1v1h-1zM434 284h1v1h-1zM434 334h1v1h-1zM434 384h1v1h-1zM434 431h1v1h-1zM434 433h1v1h-1zM436 234h1v1h-1zM438 234h1v1h-1zM440 234h1v1h-1zM442 234h1v1h-1zM444 35h1v1h-1zM444 37h1v1h-1zM444 84h1v1h-1zM444 134h1v1h-1zM444 184h1v1h-1zM444 231h1v1h-1zM444 233h1v1h-1zM444 234h1v1h-1zM444 235h1v1h-1zM444 237h1v1h-1zM444 284h1v1h-1zM444 334h1v1h-1zM444 384h1v1h-1zM444 431h1v1h-1zM444 433h1v1h-1zM446 234h1v1h-1zM448 234h1v1h-1zM450 234h1v1h-1zM452 234h1v1h-1zM454 35h1v1h-1zM454 37h1v1h-1zM454 84h1v1h-1zM454 134h1v1h-1zM454 184h1v1h-1zM454 231h1v1h-1zM454 233h1v1h-1zM454 234h1v1h-1zM454 235h1v1h-1zM454 237h1v1h-1zM454 284h1v1h-1zM454 334h1v1h-1zM454 384h1v1h-1zM454 431h1v1h-1zM454 433h1v1h-1zM456 234h1v1h-1zM458 234h1v1h-1zM460 234h1v1h-1zM462 234h1v1h-1zM464 35h1v1h-1zM464 37h1v1h-1zM464 84h1v1h-1zM464 134h1v1h-1zM464 184h1v1h-1zM464 231h1v1h-1zM464 233h1v1h-1zM464 234h1v1h-1zM464 235h1v1h-1zM464 237h1v1h-1zM464 284h1v1h-1zM464 334h1v1h-1zM464 384h1v1h-1zM464 431h1v1h-1zM464 433h1v1h-1zM466 234h1v1h-1zM468 234h1v1h-1zM470 234h1v1h-1zM472 234h1v1h-1zM474 36h1v1h-1zM474 38h1v1h-1zM474 40h1v1h-1zM474 44h1v1h-1zM474 54h1v1h-1zM474 64h1v1h-1zM474 74h1v1h-1zM474 84h1v1h-1zM474 94h1v1h-1zM474 104h1v1h-1zM474 114h1v1h-1zM474 124h1v1h-1zM474 134h1v1h-1zM474 144h1v1h-1zM474 154h1v1h-1zM474 164h1v1h-1zM474 174h1v1h-1zM474 184h1v1h-1zM474 194h1v1h-1zM474 204h1v1h-1zM474 214h1v1h-1zM474 224h1v1h-1zM474 228h1v1h-1zM474 230h1v1h-1zM474 232h1v1h-1zM474 234h1v1h-1zM474 236h1v1h-1zM474 238h1v1h-1zM474 240h1v1h-1zM474 244h1v1h-1zM474 254h1v1h-1zM474 264h1v1h-1zM474 274h1v1h-1zM474 284h1v1h-1zM474 294h1v1h-1zM474 304h1v1h-1zM474 314h1v1h-1zM474 324h1v1h-1zM474 334h1v1h-1zM474 344h1v1h-1zM474 354h1v1h-1zM474 364h1v1h-1zM474 374h1v1h-1zM474 384h1v1h-1zM474 394h1v1h-1zM474 404h1v1h-1zM474 414h1v1h-1zM474 424h1v1h-1zM474 428h1v1h-1zM474 430h1v1h-1zM474 432h1v1h-1zM476 234h1v1h-1zM478 234h1v1h-1zM480 234h1v1h-1zM482 234h1v1h-1zM484 35h1v1h-1zM484 37h1v1h-1zM484 84h1v1h-1zM484 134h1v1h-1zM484 184h1v1h-1zM484 231h1v1h-1zM484 233h1v1h-1zM484 234h1v1h-1zM484 235h1v1h-1zM484 237h1v1h-1zM484 284h1v1h-1zM484 334h1v1h-1zM484 384h1v1h-1zM484 431h1v1h-1zM484 433h1v1h-1zM486 234h1v1h-1zM488 234h1v1h-1zM490 234h1v1h-1zM492 234h1v1h-1zM494 35h1v1h-1zM494 37h1v1h-1zM494 84h1v1h-1zM494 134h1v1h-1zM494 184h1v1h-1zM494 231h1v1h-1zM494 233h1v1h-1zM494 234h1v1h-1zM494 235h1v1h-1zM494 237h1v1h-1zM494 284h1v1h-1zM494 334h1v1h-1zM494 384h1v1h-1zM494 431h1v1h-1zM494 433h1v1h-1zM496 234h1v1h-1zM498 234h1v1h-1zM500 234h1v1h-1zM502 234h1v1h-1zM504 35h1v1h-1zM504 37h1v1h-1zM504 84h1v1h-1zM504 134h1v1h-1zM504 184h1v1h-1zM504 231h1v1h-1zM504 233h1v1h-1zM504 234h1v1h-1zM504 235h1v1h-1zM504 237h1v1h-1zM504 284h1v1h-1zM504 334h1v1h-1zM504 384h1v1h-1zM504 431h1v1h-1zM504 433h1v1h-1zM506 234h1v1h-1zM508 234h1v1h-1zM510 234h1v1h-1zM512 234h1v1h-1zM514 35h1v1h-1zM514 37h1v1h-1zM514 84h1v1h-1zM514 134h1v1h-1zM514 184h1v1h-1zM514 231h1v1h-1zM514 233h1v1h-1zM514 234h1v1h-1zM514 235h1v1h-1zM514 237h1v1h-1zM514 284h1v1h-1zM514 334h1v1h-1zM514 384h1v1h-1zM514 431h1v1h-1zM514 433h1v1h-1zM516 234h1v1h-1zM518 84h1v1h-1zM518 134h1v1h-1zM518 184h1v1h-1zM518 234h1v1h-1zM518 284h1v1h-1zM518 334h1v1h-1zM518 384h1v1h-1zM520 84h1v1h-1zM520 134h1v1h-1zM520 184h1v1h-1zM520 234h1v1h-1zM520 284h1v1h-1zM520 334h1v1h-1zM520 384h1v1h-1zM521 44h1v1h-1zM521 54h1v1h-1zM521 64h1v1h-1zM521 74h1v1h-1zM521 94h1v1h-1zM521 104h1v1h-1zM521 114h1v1h-1zM521 124h1v1h-1zM521 144h1v1h-1zM521 154h1v1h-1zM521 164h1v1h-1zM521 174h1v1h-1zM521 194h1v1h-1zM521 204h1v1h-1zM521 214h1v1h-1zM521 224h1v1h-1zM521 244h1v1h-1zM521 254h1v1h-1zM521 264h1v1h-1zM521 274h1v1h-1zM521 294h1v1h-1zM521 304h1v1h-1zM521 314h1v1h-1zM521 324h1v1h-1zM521 344h1v1h-1zM521 354h1v1h-1zM521 364h1v1h-1zM521 374h1v1h-1zM521 394h1v1h-1zM521 404h1v1h-1zM521 414h1v1h-1zM521 424h1v1h-1zM522 84h1v1h-1zM522 134h1v1h-1zM522 184h1v1h-1zM522 234h1v1h-1zM522 284h1v1h-1zM522 334h1v1h-1zM522 384h1v1h-1zM523 44h1v1h-1zM523 54h1v1h-1zM523 64h1v1h-1zM523 74h1v1h-1zM523 94h1v1h-1zM523 104h1v1h-1zM523 114h1v1h-1zM523 124h1v1h-1zM523 144h1v1h-1zM523 154h1v1h-1zM523 164h1v1h-1zM523 174h1v1h-1zM523 194h1v1h-1zM523 204h1v1h-1zM523 214h1v1h-1zM523 224h1v1h-1zM523 244h1v1h-1zM523 254h1v1h-1zM523 264h1v1h-1zM523 274h1v1h-1zM523 294h1v1h-1zM523 304h1v1h-1zM523 314h1v1h-1zM523 324h1v1h-1zM523 344h1v1h-1zM523 354h1v1h-1zM523 364h1v1h-1zM523 374h1v1h-1zM523 394h1v1h-1zM523 404h1v1h-1zM523 414h1v1h-1zM523 424h1v1h-1z" fill="#000"/>
<path d="M24 180h10v7h-10zM34 179h2v9h-2zM36 180h2v7h-2zM38 180h2v8h-2zM40 180h2v7h-2zM42 180h2v6h-2zM44 180h4v7h-4zM48 180h2v8h-2zM50 180h2v7h-2zM52 180h2v8h-2zM54 180h4v7h-4zM58 180h2v8h-2zM60 180h6v7h-6zM66 180h2v8h-2zM68 180h2v7h-2zM70 179h2v8h-2zM72 180h2v7h-2zM74 180h2v8h-2zM76 180h4v7h-4zM80 180h2v8h-2zM82 177h2v11h-2zM84 173h2v15h-2zM86 166h2v22h-2zM88 155h2v33h-2zM90 142h2v45h-2zM92 128h2v60h-2zM94 115h2v73h-2zM96 102h2v86h-2zM98 91h2v97h-2zM100 82h2v104h-2zM102 74h2v112h-2zM104 69h2v117h-2zM106 64h2v122h-2zM108 62h2v123h-2zM110 61h4v124h-4zM114 61h2v122h-2zM116 61h2v118h-2zM118 61h2v112h-2zM120 61h2v104h-2zM122 62h2v93h-2zM124 62h2v81h-2zM126 61h2v68h-2zM128 61h2v54h-2zM130 61h2v40h-2zM132 62h2v29h-2zM134 61h2v21h-2zM136 61h2v13h-2zM138 62h2v9h-2zM140 62h6v10h-6zM146 64h6v8h-6zM152 62h2v10h-2zM154 63h2v9h-2zM156 64h2v8h-2zM158 64h2v13h-2zM160 63h2v23h-2zM162 62h2v35h-2zM164 63h2v48h-2zM166 63h2v63h-2zM168 62h2v79h-2zM170 63h2v90h-2zM172 64h2v100h-2zM174 64h2v110h-2zM176 64h2v117h-2zM178 63h2v121h-2zM180 63h2v123h-2zM182 62h2v125h-2zM184 62h2v126h-2zM186 64h4v124h-4zM190 62h2v126h-2zM192 63h2v125h-2zM194 64h2v124h-2zM196 64h8v126h-8zM204 62h2v128h-2zM206 63h2v128h-2zM208 62h2v130h-2zM210 63h2v128h-2zM212 64h2v126h-2zM214 64h4v127h-4zM218 64h2v128h-2zM220 64h2v127h-2zM222 64h6v126h-6zM228 65h2v125h-2zM230 64h2v126h-2zM232 65h2v125h-2zM234 67h2v123h-2zM236 72h2v118h-2zM238 81h2v109h-2zM240 90h2v100h-2zM242 103h2v87h-2zM244 117h2v73h-2zM246 130h2v60h-2zM248 144h2v46h-2zM250 157h2v33h-2zM252 168h2v22h-2zM254 177h2v13h-2zM256 180h2v9h-2zM258 180h4v10h-4zM262 179h2v11h-2zM264 180h2v9h-2zM266 179h2v8h-2zM268 180h2v7h-2zM270 179h4v8h-4zM274 178h2v10h-2zM276 179h6v8h-6zM282 178h4v9h-4zM286 178h8v8h-8zM294 178h4v9h-4zM298 178h4v10h-4zM302 178h4v8h-4zM306 178h2v9h-2zM308 179h2v7h-2zM310 178h2v8h-2zM312 179h2v7h-2zM314 178h2v9h-2zM316 179h2v8h-2zM318 178h2v8h-2zM320 178h4v9h-4zM324 178h2v8h-2zM326 178h6v9h-6zM332 178h4v8h-4zM336 178h4v9h-4zM340 178h6v8h-6zM346 178h4v9h-4zM350 178h4v8h-4zM354 179h2v7h-2zM356 179h4v8h-4zM360 178h2v10h-2zM362 179h2v7h-2zM364 180h6v6h-6zM370 179h4v8h-4zM374 180h6v6h-6zM380 180h4v7h-4zM384 179h2v7h-2zM386 178h2v9h-2zM388 179h2v7h-2zM390 180h8v7h-8zM398 179h2v7h-2zM400 178h4v8h-4zM404 180h4v6h-4zM408 179h2v8h-2zM410 180h4v7h-4zM414 180h8v6h-8zM422 179h2v7h-2zM424 180h2v7h-2zM426 179h2v8h-2zM428 180h2v7h-2zM430 180h2v6h-2zM432 179h4v7h-4zM436 180h2v8h-2zM438 180h2v7h-2zM440 180h2v6h-2zM442 180h4v7h-4zM446 180h6v6h-6zM452 179h6v9h-6zM458 180h4v6h-4zM462 179h6v7h-6zM468 180h6v6h-6zM474 180h2v8h-2zM476 180h2v7h-2zM478 180h2v8h-2zM480 180h2v7h-2zM482 179h2v8h-2zM484 178h2v9h-2zM486 179h2v9h-2zM488 180h4v7h-4zM492 179h2v7h-2zM494 180h2v6h-2zM496 180h8v7h-8zM504 180h8v8h-8zM512 180h4v7h-4zM516 180h8v6h-8zM24 331h2v101h-2zM26 326h2v107h-2zM28 323h2v111h-2zM30 322h2v112h-2zM32 324h2v110h-2zM34 330h2v104h-2zM36 336h2v98h-2zM38 336h2v95h-2zM40 335h2v94h-2zM42 332h2v97h-2zM44 329h2v99h-2zM46 328h2v98h-2zM48 330h2v96h-2zM50 337h2v90h-2zM52 336h2v92h-2zM54 336h2v94h-2zM56 332h2v100h-2zM58 332h2v99h-2zM60 332h2v101h-2zM62 329h2v104h-2zM64 328h2v101h-2zM66 328h2v95h-2zM68 328h2v98h-2zM70 323h2v103h-2zM72 316h2v107h-2zM74 312h2v103h-2zM76 306h2v100h-2zM78 298h2v99h-2zM80 286h2v103h-2zM82 278h2v104h-2zM84 272h2v102h-2zM86 260h2v104h-2zM88 253h2v104h-2zM90 245h2v102h-2zM92 237h2v103h-2zM94 231h2v102h-2zM96 224h2v107h-2zM98 218h2v110h-2zM100 212h2v110h-2zM102 209h2v106h-2zM104 207h2v102h-2zM106 203h2v103h-2zM108 202h2v102h-2zM110 201h2v102h-2zM112 198h2v103h-2zM114 194h2v104h-2zM116 195h2v102h-2zM118 197h2v99h-2zM120 200h4v97h-4zM124 198h2v96h-2zM126 198h2v97h-2zM128 199h2v97h-2zM130 202h2v97h-2zM132 203h2v97h-2zM134 202h2v98h-2zM136 202h2v104h-2zM138 207h2v117h-2zM140 208h2v128h-2zM142 206h2v132h-2zM144 206h2v138h-2zM146 205h2v146h-2zM148 204h2v147h-2zM150 207h2v137h-2zM152 217h2v123h-2zM154 220h2v117h-2zM156 226h2v107h-2zM158 234h2v103h-2zM160 238h2v101h-2zM162 242h2v98h-2zM164 248h2v98h-2zM166 250h4v97h-4zM170 250h2v100h-2zM172 251h2v100h-2zM174 252h2v105h-2zM176 252h2v108h-2zM178 254h2v105h-2zM180 256h2v100h-2zM182 253h2v100h-2zM184 252h2v99h-2zM186 252h2v101h-2zM188 254h2v100h-2zM190 256h2v101h-2zM192 258h2v103h-2zM194 260h2v101h-2zM196 260h2v100h-2zM198 261h2v104h-2zM200 265h2v100h-2zM202 263h2v101h-2zM204 262h2v102h-2zM206 264h2v100h-2zM208 265h2v102h-2zM210 263h2v109h-2zM212 261h2v111h-2zM214 261h2v112h-2zM216 261h2v113h-2zM218 264h2v109h-2zM220 268h2v107h-2zM222 267h2v109h-2zM224 264h2v115h-2zM226 265h2v115h-2zM228 267h2v112h-2zM230 272h2v107h-2zM232 273h2v108h-2zM234 274h2v107h-2zM236 270h2v111h-2zM238 265h2v117h-2zM240 262h2v121h-2zM242 262h2v125h-2zM244 269h2v122h-2zM246 272h4v121h-4zM250 272h2v120h-2zM252 273h2v117h-2zM254 276h2v109h-2zM256 274h2v110h-2zM258 273h2v112h-2zM260 277h2v110h-2zM262 278h4v111h-4zM266 274h2v116h-2zM268 276h2v116h-2zM270 283h2v109h-2zM272 284h2v112h-2zM274 284h2v118h-2zM276 285h2v120h-2zM278 290h2v117h-2zM280 293h2v114h-2zM282 297h2v108h-2zM284 298h2v104h-2zM286 299h2v103h-2zM288 299h2v104h-2zM290 300h2v106h-2zM292 298h2v109h-2zM294 295h2v113h-2zM296 294h2v114h-2zM298 296h2v111h-2zM300 300h2v108h-2zM302 301h2v108h-2zM304 302h2v106h-2zM306 298h2v110h-2zM308 295h2v114h-2zM310 293h2v120h-2zM312 293h2v122h-2zM314 297h2v118h-2zM316 304h2v109h-2zM318 308h2v108h-2zM320 308h2v112h-2zM322 306h2v113h-2zM324 307h2v107h-2zM326 305h2v104h-2zM328 305h2v102h-2zM330 308h2v99h-2zM332 314h2v95h-2zM334 315h2v95h-2zM336 316h2v92h-2zM338 315h2v92h-2zM340 313h2v96h-2zM342 312h2v98h-2zM344 313h2v97h-2zM346 312h2v97h-2zM348 308h2v100h-2zM350 308h2v102h-2zM352 310h2v101h-2zM354 310h2v102h-2zM356 311h2v105h-2zM358 310h2v108h-2zM360 311h2v107h-2zM362 313h2v105h-2zM364 315h2v103h-2zM366 314h2v108h-2zM368 320h2v106h-2zM370 320h2v109h-2zM372 324h2v107h-2zM374 325h2v108h-2zM376 327h2v105h-2zM378 326h2v104h-2zM380 326h2v101h-2zM382 330h2v96h-2zM384 332h2v96h-2zM386 332h2v94h-2zM388 333h2v93h-2zM390 333h2v90h-2zM392 332h2v91h-2zM394 333h2v90h-2zM396 332h2v91h-2zM398 327h2v97h-2zM400 323h2v101h-2zM402 322h2v102h-2zM404 318h4v106h-4zM408 318h2v107h-2zM410 322h2v103h-2zM412 322h2v105h-2zM414 323h2v108h-2zM416 322h2v109h-2zM418 319h2v107h-2zM420 319h2v103h-2zM422 318h4v102h-4zM426 322h2v97h-2zM428 326h2v97h-2zM430 327h2v97h-2zM432 326h2v100h-2zM434 326h2v99h-2zM436 327h2v99h-2zM438 331h2v97h-2zM440 331h2v98h-2zM442 328h2v103h-2zM444 329h2v105h-2zM446 334h4v100h-4zM450 336h4v98h-4zM454 334h4v100h-4zM458 336h4v98h-4zM462 335h2v99h-2zM464 334h2v100h-2zM466 328h2v106h-2zM468 323h2v109h-2zM470 322h2v105h-2zM472 322h2v96h-2zM474 322h2v91h-2zM476 322h2v92h-2zM478 320h2v94h-2zM480 320h2v97h-2zM482 316h2v108h-2zM484 315h2v109h-2zM486 317h2v107h-2zM488 317h2v106h-2zM490 317h2v108h-2zM492 316h2v109h-2zM494 318h2v109h-2zM496 315h2v115h-2zM498 315h2v114h-2zM500 316h2v117h-2zM502 318h2v116h-2zM504 321h2v113h-2zM506 328h2v106h-2zM508 328h2v105h-2zM510 328h2v101h-2zM512 330h2v96h-2zM514 336h2v90h-2zM516 340h2v83h-2zM518 340h2v85h-2zM520 338h2v86h-2zM522 339h2v82h-2z" fill="#000"/>
<path d="M24 34h501v1h-501zM24 434h501v1h-501zM24 34h1v401h-1zM524 34h1v401h-1z" fill="#000"/>

<path d="M35 0h43v15h-43zM3 394h21v15h-21zM28 435h31v15h-31z" fill="#000"/>

<path d="M14 400h5v-3h1v1h1v1h1v1h1v1h-1v1h-1v1h-1v1h-1v-3h-5z" fill="#fff"/>
<path d="M14 67h5v-3h1v1h1v1h1v1h1v1h-1v1h-1v1h-1v1h-1v-3h-5z" fill="#000"/>
<path d="M148 15h4v1h2v1h-4v11h2v1h-4v-12h-4v-1h4z" fill="#000"/>
<path d="M397 15h4v14h-4v-1h2v-12h-2z" fill="#000"/>
<path d="M151 22h1v1h-1zM153 22h1v1h-1zM155 22h1v1h-1zM157 22h1v1h-1zM159 22h1v1h-1zM161 22h1v1h-1zM163 22h1v1h-1zM165 22h1v1h-1zM167 22h1v1h-1zM169 22h1v1h-1zM171 22h1v1h-1zM173 22h1v1h-1zM175 22h1v1h-1zM177 22h1v1h-1zM179 22h1v1h-1zM181 22h1v1h-1zM183 22h1v1h-1zM185 22h1v1h-1zM187 22h1v1h-1zM189 22h1v1h-1zM191 22h1v1h-1zM193 22h1v1h-1zM195 22h1v1h-1zM197 22h1v1h-1zM199 22h1v1h-1zM201 22h1v1h-1zM203 22h1v1h-1zM205 22h1v1h-1zM207 22h1v1h-1zM209 22h1v1h-1zM211 22h1v1h-1zM213 22h1v1h-1zM215 22h1v1h-1zM217 22h1v1h-1zM219 22h1v1h-1zM221 22h1v1h-1zM223 22h1v1h-1zM225 22h1v1h-1zM227 22h1v1h-1zM229 22h1v1h-1zM231 22h1v1h-1zM233 22h1v1h-1zM235 22h1v1h-1zM237 22h1v1h-1zM239 22h1v1h-1zM241 22h1v1h-1zM243 22h1v1h-1zM245 22h1v1h-1zM247 22h1v1h-1zM249 22h1v1h-1zM251 22h1v1h-1zM253 22h1v1h-1zM255 22h1v1h-1zM257 22h1v1h-1zM259 22h1v1h-1zM261 22h1v1h-1zM263 22h1v1h-1zM265 22h1v1h-1zM267 22h1v1h-1zM269 22h1v1h-1zM271 22h1v1h-1zM273 22h1v1h-1zM275 22h1v1h-1zM277 22h1v1h-1zM279 22h1v1h-1zM281 22h1v1h-1zM283 22h1v1h-1zM285 22h1v1h-1zM287 22h1v1h-1zM289 22h1v1h-1zM291 22h1v1h-1zM293 22h1v1h-1zM295 22h1v1h-1zM297 22h1v1h-1zM299 22h1v1h-1zM301 22h1v1h-1zM303 22h1v1h-1zM305 22h1v1h-1zM307 22h1v1h-1zM309 22h1v1h-1zM311 22h1v1h-1zM313 22h1v1h-1zM315 22h1v1h-1zM317 22h1v1h-1zM319 22h1v1h-1zM321 22h1v1h-1zM323 22h1v1h-1zM325 22h1v1h-1zM327 22h1v1h-1zM329 22h1v1h-1zM331 22h1v1h-1zM333 22h1v1h-1zM335 22h1v1h-1zM337 22h1v1h-1zM339 22h1v1h-1zM341 22h1v1h-1zM343 22h1v1h-1zM345 22h1v1h-1zM347 22h1v1h-1zM349 22h1v1h-1zM351 22h1v1h-1zM353 22h1v1h-1zM355 22h1v1h-1zM357 22h1v1h-1zM359 22h1v1h-1zM361 22h1v1h-1zM363 22h1v1h-1zM365 22h1v1h-1zM367 22h1v1h-1zM369 22h1v1h-1zM371 22h1v1h-1zM373 22h1v1h-1zM375 22h1v1h-1zM377 22h1v1h-1zM379 22h1v1h-1zM381 22h1v1h-1zM383 22h1v1h-1zM385 22h1v1h-1zM387 22h1v1h-1zM389 22h1v1h-1zM391 22h1v1h-1zM393 22h1v1h-1zM395 22h1v1h-1zM397 22h1v1h-1z" fill="#000"/>
<path d="M425 436h5v2h-5zM429 437h2v3h-2zM430 439h2v3h-2zM431 442h2v3h-2zM432 445h5v2h-5z" fill="#000"/>

</svg>
<div class="t n" style="left:0px;top:0px;letter-spacing:1.0px;">Tek</div>
<div class="t w" style="left:36px;top:0px;letter-spacing:1.5px;">Stop:</div>
<div class="t" style="left:83px;top:0px;letter-spacing:1.3px;">Single</div>
<div class="t" style="left:137px;top:0px;letter-spacing:1.0px;">Seq</div>
<div class="t" style="left:176px;top:0px;letter-spacing:1.5px;">1.00GS/s</div>
<div class="t" style="left:4px;top:61px;letter-spacing:0px;">2</div>
<div class="t w" style="left:4px;top:395px;letter-spacing:0px;">1</div>
<div class="t w" style="left:29px;top:435px;letter-spacing:1.0px;">C1</div>
<div class="s w" style="left:49px;top:436px;letter-spacing:0px;transform:scaleX(0.7);transform-origin:0 0;">D</div>
<div class="s w" style="left:53px;top:441px;letter-spacing:0px;transform:scaleX(0.9);transform-origin:0 0;font-size:8.5px;">S</div>
<div class="t" style="left:71px;top:435px;letter-spacing:1.75px;">2.00mVΩ</div>
<div class="t" style="left:168px;top:435px;letter-spacing:1.0px;">C2</div>
<div class="s" style="left:188px;top:436px;letter-spacing:0px;transform:scaleX(0.7);transform-origin:0 0;">D</div>
<div class="s" style="left:192px;top:441px;letter-spacing:0px;transform:scaleX(0.9);transform-origin:0 0;font-size:8.5px;">S</div>
<div class="t" style="left:216px;top:435px;letter-spacing:1.75px;">500mVΩ</div>
<div class="t" style="left:301px;top:435px;letter-spacing:0px;">M</div>
<div class="t" style="left:320px;top:435px;letter-spacing:1.5px;">5.00ns</div>
<div class="t" style="left:388px;top:435px;letter-spacing:1.5px;">Ch4</div>
<div class="t" style="left:453px;top:435px;letter-spacing:1.25px;">−740mV</div>
<div class="t" style="left:531px;top:438px;letter-spacing:1.4px;">17</div>
<div class="t" style="left:556px;top:438px;letter-spacing:2.0px;">Apr</div>
<div class="t" style="left:592px;top:438px;letter-spacing:1.4px;">1998</div>
<div class="t" style="left:531px;top:458px;letter-spacing:1.4px;">13:08:16</div>

</body></html>
